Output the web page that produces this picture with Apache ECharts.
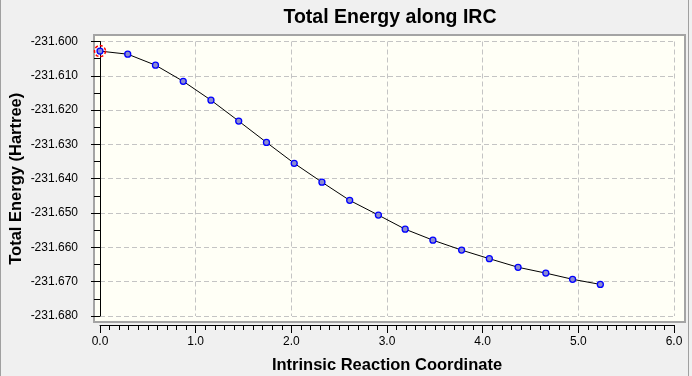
<!DOCTYPE html>
<html>
<head>
<meta charset="utf-8">
<title>Total Energy along IRC</title>
<script src="https://cdn.jsdelivr.net/npm/echarts@6/dist/echarts.min.js"></script>
<style>
  html, body { margin: 0; padding: 0; background: #f0f0f0; }
  #main { width: 692px; height: 376px; }
</style>
</head>
<body>
<div id="main"></div>
<script>
// IRC points
var irc = [0, 0.29, 0.58, 0.87, 1.16, 1.45, 1.74, 2.03, 2.32, 2.61, 2.91, 3.19, 3.48, 3.78, 4.07, 4.37, 4.66, 4.94, 5.23];
var energy = [-231.6028, -231.6037, -231.6069, -231.6116, -231.6171, -231.6232, -231.6294, -231.6355, -231.6410,
  -231.6463, -231.6506, -231.6547, -231.6579, -231.6608, -231.6633, -231.6658, -231.6675, -231.6693, -231.6708];
var xTicks = [0, 6, 1];              // min, max, step
var yTicks = [-231.680, -231.600, 0.01];

var font = "'Liberation Sans', Arial, sans-serif";

var points = irc.map(function (x, i) { return [x, energy[i]]; });

var myChart = echarts.init(document.getElementById("main"));

var option = {
  animation: false,
  backgroundColor: "#f0f0f0",
  title: {
    text: "Total Energy along IRC",
    left: 385,
    top: 3,
    textAlign: "center",
    textStyle: { fontFamily: font, fontSize: 19.5, fontWeight: "bold", color: "#000" }
  },
  graphic: [
    // plot frame
    { type: "rect", z: -10, shape: { x: 94, y: 35, width: 591, height: 287 },
      style: { fill: "#fffff6", stroke: "#a4a4a4", lineWidth: 2 } },
    // window edges
    { type: "line", z: -10, shape: { x1: 0.5, y1: 0, x2: 0.5, y2: 376 }, style: { stroke: "#a0a0a0", lineWidth: 1 } },
    { type: "line", z: -10, shape: { x1: 688.5, y1: 0, x2: 688.5, y2: 376 }, style: { stroke: "#a0a0a0", lineWidth: 1 } }
  ],
  grid: { left: 100, right: 18, top: 41.5, bottom: 60, outerBoundsMode: "none", containLabel: false },
  xAxis: {
    type: "value",
    min: xTicks[0], max: xTicks[1], interval: xTicks[2],
    offset: 9,
    name: "Intrinsic Reaction Coordinate",
    nameLocation: "middle",
    nameGap: 32,
    nameMoveOverlap: false,
    nameTextStyle: { fontFamily: font, fontSize: 16.5, fontWeight: "bold", color: "#000" },
    axisLine: { lineStyle: { color: "#000", width: 1 } },
    axisTick: { length: 8, lineStyle: { color: "#000" } },
    minorTick: { show: true, splitNumber: 10, length: 5, lineStyle: { color: "#000" } },
    axisLabel: { margin: 11, fontFamily: font, fontSize: 12, color: "#000",
      formatter: function (v) { return v.toFixed(1); } },
    splitLine: { show: true, lineStyle: { color: "#c4c4c4", type: [5, 3], width: 1 } }
  },
  yAxis: {
    type: "value",
    min: yTicks[0], max: yTicks[1], interval: yTicks[2],
    offset: 9,
    name: "Total Energy (Hartree)",
    nameLocation: "middle",
    nameGap: 66,
    nameMoveOverlap: false,
    nameTextStyle: { fontFamily: font, fontSize: 16.5, fontWeight: "bold", color: "#000" },
    axisLine: { show: true, lineStyle: { color: "#000", width: 1 } },
    axisTick: { show: true, length: 9, lineStyle: { color: "#000" } },
    minorTick: { show: true, splitNumber: 2, length: 6, lineStyle: { color: "#000" } },
    axisLabel: { margin: 13, fontFamily: font, fontSize: 12, color: "#000",
      formatter: function (v) { return v.toFixed(3); } },
    splitLine: { show: true, lineStyle: { color: "#c4c4c4", type: [5, 3], width: 1 } }
  },
  series: [
    {
      name: "Energy",
      type: "line",
      data: points,
      symbol: "circle",
      symbolSize: 6,
      showSymbol: true,
      clip: false,
      lineStyle: { color: "#000", width: 1 },
      itemStyle: { color: "#8c8cd0", borderColor: "#0000ff", borderWidth: 1.3 },
      z: 3
    },
    {
      // current point marker
      name: "Current",
      type: "scatter",
      data: [points[0]],
      symbol: "circle",
      symbolSize: 11,
      clip: false,
      itemStyle: { color: "rgba(0,0,0,0)", opacity: 1, borderColor: "#ff0000", borderWidth: 1.5, borderType: [3, 2] },
      z: 5
    }
  ]
};

myChart.setOption(option, true);
</script>
</body>
</html>
